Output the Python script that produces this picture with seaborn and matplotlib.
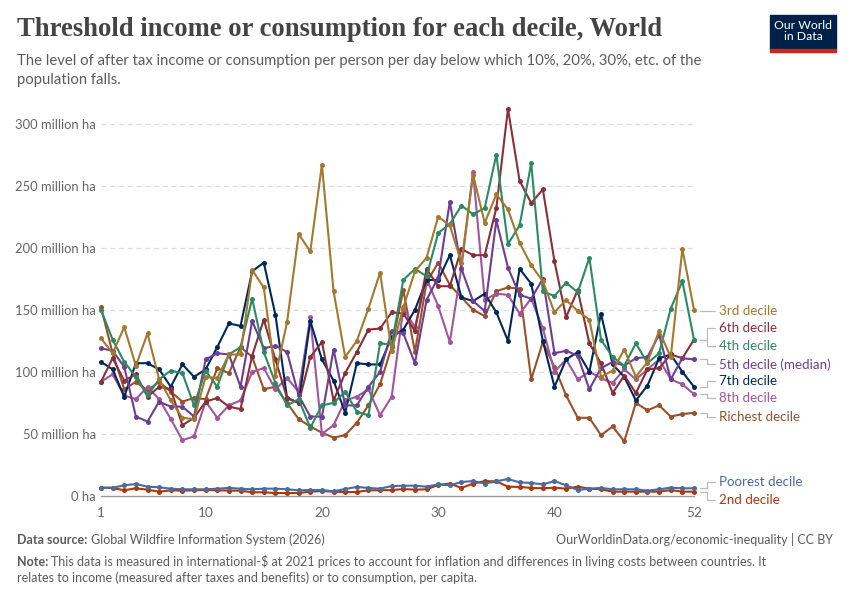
import numpy as np
import pandas as pd
import matplotlib
matplotlib.use("Agg")
import matplotlib.pyplot as plt
import seaborn as sns

weeks = list(range(1, 53))

poorest = [6.7,6.7,8.6,9.7,7.5,7.0,5.9,5.4,5.4,5.4,5.9,6.5,5.9,5.4,5.9,5.9,5.4,4.6,4.8,4.8,3.8,5.6,7.3,6.5,5.9,8.0,8.3,8.3,7.5,9.4,8.6,11.3,12.0,10.0,11.8,13.7,11.0,10.5,9.4,12.0,8.6,4.8,5.9,6.5,5.4,5.4,5.4,4.3,5.4,6.7,6.2,6.2]
second = [6.7,6.5,4.6,6.2,5.1,3.5,4.6,4.3,4.6,4.8,4.6,4.3,4.3,3.0,3.0,2.4,2.4,2.4,3.5,4.0,3.5,3.2,3.2,4.6,4.6,4.8,5.6,5.1,5.4,8.9,10.0,6.5,10.0,12.0,11.8,7.5,7.3,6.5,6.2,6.7,5.9,7.5,5.9,5.4,3.5,3.5,3.5,3.5,3.5,4.8,3.5,3.5]
third = [127,115,136,105,131,94,77,63,62,96,95,114,114,182,168,97,140,211,197,267,165,112,125,151,180,117,152,181,192,225,218,188,259,220,243,231,204,186,173,148,158,149,142,96,101,118,96,108,133,112,199,150]
fourth = [150,126,108,96,81,94,101,99,73,101,88,114,120,159,116,91,73,78,55,73,75,84,68,65,123,122,174,183,177,212,219,234,227,232,275,203,218,268,165,161,172,164,192,126,112,105,123,107,115,151,173,126]
fifth = [119,117,104,64,60,76,72,72,64,110,115,114,88,141,119,121,116,81,64,64,118,73,73,88,100,133,131,107,158,176,237,183,157,149,222,184,162,159,175,115,117,113,86,103,108,105,111,112,130,94,111,110]
sixth = [92,111,93,98,80,88,86,57,63,76,79,72,70,113,142,110,79,75,112,124,77,99,116,134,135,148,147,133,183,169,169,199,194,194,232,312,254,236,247,189,144,166,123,107,83,97,83,102,103,114,111,126]
seventh = [108,102,80,107,107,102,88,106,96,102,120,139,137,181,188,146,79,75,141,110,93,67,107,106,106,128,134,150,174,174,194,160,157,163,148,125,183,171,125,88,110,116,100,147,106,96,77,89,111,114,100,88]
eighth = [92,98,81,78,88,78,62,45,48,76,63,73,77,100,103,86,95,84,144,50,57,77,80,86,65,80,151,136,175,153,124,184,261,158,163,162,147,159,135,100,110,94,100,95,91,102,94,102,110,94,90,82]
richest = [152,115,86,92,85,92,84,76,79,78,103,99,120,112,86,88,75,62,56,51,47,49,59,73,90,120,166,116,172,188,170,160,150,145,165,168,167,94,124,104,81,63,63,49,56,44,75,69,73,64,66,67]

series_names = ["Richest decile", "8th decile", "7th decile", "6th decile", "5th decile (median)",
                "4th decile", "3rd decile", "2nd decile", "Poorest decile"]
series_values = [richest, eighth, seventh, sixth, fifth, fourth, third, second, poorest]
colors = ["#9A5129", "#A2559C", "#00295B", "#883039", "#6D3E91", "#2C8A63", "#A2792F", "#B13507", "#4C6A9C"]
# vertical positions (in data units) of the end labels
label_pos = [64, 79, 93, 135, 106, 121, 149, -3.0, 11.5]

x_ticks = [1, 10, 20, 30, 40, 52]
y_ticks = [0, 50, 100, 150, 200, 250, 300]
y_tick_labels = ["0 ha", "50 million ha", "100 million ha", "150 million ha",
                 "200 million ha", "250 million ha", "300 million ha"]

df = pd.DataFrame({
    "week": np.tile(weeks, len(series_names)),
    "value": np.concatenate(series_values),
    "decile": np.repeat(series_names, len(weeks)),
})

sns.set_theme(style="white")
plt.rcParams["font.family"] = ["Lato", "DejaVu Sans"]

fig = plt.figure(figsize=(8.5, 6), dpi=100)
ax = fig.add_axes([101/850, 104/600, (694-101)/850, (496-105)/600])

palette = dict(zip(series_names, colors))
sns.lineplot(data=df, x="week", y="value", hue="decile", hue_order=series_names, palette=palette,
             marker="o", markersize=3.6, markeredgewidth=0, linewidth=1.5,
             legend=False, ax=ax, clip_on=False)

ax.set_xlim(1, 52)
ax.set_ylim(0, 315)
ax.set_xticks(x_ticks)
ax.set_xticklabels([str(t) for t in x_ticks])
ax.set_yticks(y_ticks)
ax.set_yticklabels(y_tick_labels)
ax.set_xlabel("")
ax.set_ylabel("")
for s in ["left", "right", "top"]:
    ax.spines[s].set_visible(False)
ax.spines["bottom"].set_color("#999999")
ax.spines["bottom"].set_linewidth(1)
ax.tick_params(axis="x", colors="#999999", length=5, width=1, labelsize=9.8, labelcolor="#666666", pad=3)
ax.tick_params(axis="y", length=0, labelsize=9.4, labelcolor="#666666", pad=3.6)
for t in y_ticks[1:]:
    ax.axhline(t, color="#dddddd", linestyle=(0, (4, 3)), linewidth=0.9, zorder=0)

# end labels with connectors
px = 1 / 11.63
for name, vals, col, ly in zip(series_names, series_values, colors, label_pos):
    y_end = vals[-1]
    xs = [52 + 6*px, 52 + 13*px, 52 + 13*px, 52 + 21*px]
    ys = [y_end, y_end, ly, ly]
    if abs(y_end - ly) < 2:
        xs = [52 + 6*px, 52 + 21*px]
        ys = [ly, ly]
    ax.plot(xs, ys, color="#bbbbbb", linewidth=0.9, clip_on=False)
    ax.text(52 + 25*px, ly, name, color=col, fontsize=9.6, va="center", ha="left", clip_on=False)

# Title and subtitle
fig.text(17/850, 1 - 30/600, "Threshold income or consumption for each decile, World",
         family=["Liberation Serif", "DejaVu Serif"], fontsize=19.2, fontweight="bold",
         color="#444444", va="center", ha="left")
fig.text(17/850, 1 - 61/600,
         "The level of after tax income or consumption per person per day below which 10%, 20%, 30%, etc. of the",
         fontsize=10.7, color="#5b5b5b", va="center", ha="left")
fig.text(17/850, 1 - 80/600, "population falls.", fontsize=10.7, color="#5b5b5b", va="center", ha="left")

# Logo
logo = fig.add_axes([770/850, 1 - 52/600, 66/850, 37/600])
logo.set_xlim(0, 1); logo.set_ylim(0, 1); logo.axis("off")
logo.add_patch(plt.Rectangle((0, 0.08), 1, 0.92, color="#002147", transform=logo.transAxes, clip_on=False))
logo.add_patch(plt.Rectangle((0, 0), 1, 0.09, color="#CE261E", transform=logo.transAxes, clip_on=False))
logo.text(0.5, 0.56, "Our World\nin Data", color="white", fontsize=8.8, ha="center", va="center",
          linespacing=1.0, transform=logo.transAxes)

# Footer
fig.text(17/850, 1 - 540/600, "Data source:", fontsize=9, color="#5b5b5b", fontweight="bold", va="center", ha="left")
fig.text(91/850, 1 - 540/600, "Global Wildfire Information System (2026)", fontsize=9, color="#5b5b5b", va="center", ha="left")
fig.text(833/850, 1 - 540/600, "OurWorldinData.org/economic-inequality | CC BY", fontsize=9, color="#5b5b5b", va="center", ha="right")
fig.text(17/850, 1 - 562/600, "Note:", fontsize=9, color="#5b5b5b", fontweight="bold", va="center", ha="left")
fig.text(51/850, 1 - 562/600,
         "This data is measured in international-$ at 2021 prices to account for inflation and differences in living costs between countries. It",
         fontsize=9, color="#5b5b5b", va="center", ha="left")
fig.text(17/850, 1 - 578/600, "relates to income (measured after taxes and benefits) or to consumption, per capita.",
         fontsize=9, color="#5b5b5b", va="center", ha="left")

fig.savefig("out.png", dpi=100, facecolor="white")
